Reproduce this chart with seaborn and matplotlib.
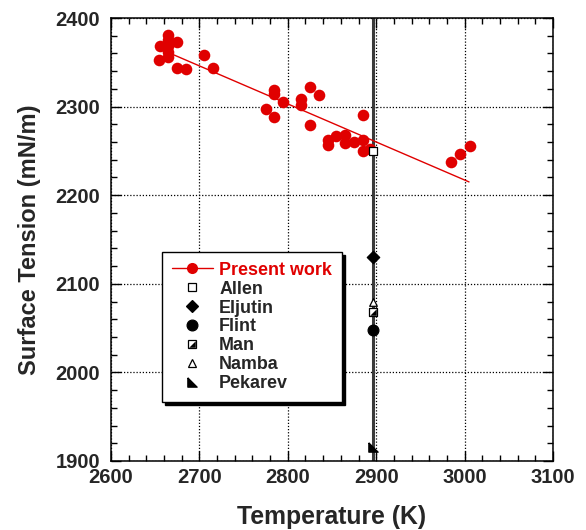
import matplotlib
matplotlib.use("Agg")
import matplotlib.pyplot as plt
from matplotlib.legend_handler import HandlerTuple
from matplotlib.lines import Line2D
import seaborn as sns
import pandas as pd
import numpy as np

# Present work: measured surface tension of liquid Mo
temp_k = [2655, 2654, 2665, 2665, 2665, 2665, 2665, 2675, 2675, 2685,
          2705, 2715, 2775, 2784, 2784, 2784, 2795, 2815, 2815, 2825,
          2825, 2835, 2845, 2845, 2855, 2865, 2865, 2875, 2885, 2885,
          2885, 2893, 2985, 2995, 3006]
tension = [2368, 2353, 2381, 2375, 2368, 2362, 2356, 2373, 2344, 2343,
           2358, 2344, 2297, 2319, 2314, 2288, 2305, 2309, 2302, 2322,
           2279, 2313, 2262, 2257, 2267, 2268, 2259, 2260, 2262, 2250,
           2290, 2252, 2237, 2246, 2255]

# Linear fit endpoints
fit_t = [2665, 3005]
fit_s = [2361, 2215]

# Literature values at the melting point
melt_t = 2896
lit_names = ["Allen", "Eljutin", "Flint", "Man", "Namba", "Pekarev"]
lit_values = [2250, 2130, 2048, 2068, 2080, 1916]

sns.set_style("white")
plt.rcParams["font.family"] = ["Liberation Sans", "DejaVu Sans"]
plt.rcParams["font.weight"] = "bold"

fig = plt.figure(figsize=(5.86, 5.30), dpi=100)
ax = fig.add_axes([0.1894, 0.1302, 0.7543, 0.8358])

red = "#e00000"
ax.axvline(melt_t, color="#3a3a3a", lw=2.2, zorder=1)

df = pd.DataFrame({"T": temp_k, "S": tension})
fit_df = pd.DataFrame({"T": fit_t, "S": fit_s})
sns.lineplot(data=fit_df, x="T", y="S", color=red, lw=1.0, ax=ax, zorder=3)
sns.scatterplot(data=df, x="T", y="S", color=red, s=70, marker="o",
                edgecolor=red, linewidth=0, ax=ax, zorder=4)

# marker shapes
lower_right = [(-1, -1), (1, -1), (1, 1), (-1, -1)]
pek_shape = [(-1, 1), (-1, -1), (1, -1), (-1, 1)]
styles = {
    "Allen": dict(marker="s", facecolor="white", size=38),
    "Eljutin": dict(marker="D", facecolor="black", size=40),
    "Flint": dict(marker="o", facecolor="black", size=60),
    "Man": dict(marker="s", facecolor="white", size=38),
    "Namba": dict(marker="^", facecolor="white", size=30),
    "Pekarev": dict(marker=pek_shape, facecolor="black", size=45),
}
lit_df = pd.DataFrame({"name": lit_names, "T": [melt_t] * len(lit_names),
                       "S": lit_values})
for name, st in styles.items():
    sub = lit_df[lit_df["name"] == name]
    sns.scatterplot(data=sub, x="T", y="S", marker=st["marker"], s=st["size"],
                    facecolor=st["facecolor"], edgecolor="black",
                    linewidth=0.9, ax=ax, zorder=5)
    if name == "Man":
        sns.scatterplot(data=sub, x="T", y="S", marker=lower_right, s=22,
                        color="black", linewidth=0, ax=ax, zorder=6)

ax.set_xlim(2600, 3100)
ax.set_ylim(1900, 2400)
ax.set_xticks([2600, 2700, 2800, 2900, 3000, 3100])
ax.set_yticks([1900, 2000, 2100, 2200, 2300, 2400])
ax.set_xticks(np.arange(2600, 3101, 20), minor=True)
ax.set_yticks(np.arange(1900, 2401, 20), minor=True)
ax.tick_params(which="both", direction="in", top=True, right=True,
               bottom=True, left=True, color="black", width=1)
ax.tick_params(which="major", length=7, labelsize=14.5)
ax.tick_params(axis="x", which="major", pad=5)
ax.tick_params(axis="y", which="major", pad=8)
ax.tick_params(which="minor", length=4)
for lab in ax.get_xticklabels() + ax.get_yticklabels():
    lab.set_fontweight("bold")
ax.grid(True, which="major", color="black", ls=(0, (1, 1.5)), lw=0.9)
for sp in ax.spines.values():
    sp.set_color("black")
    sp.set_linewidth(1.1)

ax.set_xlabel("Temperature (K)", fontsize=17.8, fontweight="bold", labelpad=13)
ax.set_ylabel("Surface Tension (mN/m)", fontsize=17, fontweight="bold",
              labelpad=10)

# legend
h_present = Line2D([], [], color=red, lw=1.0, marker="o", markersize=8,
                   markerfacecolor=red, markeredgewidth=0)
h = {}
for name, st in styles.items():
    h[name] = Line2D([], [], ls="", marker=st["marker"],
                     markersize=np.sqrt(st["size"]),
                     markerfacecolor=st["facecolor"], markeredgecolor="black",
                     markeredgewidth=0.9)
h_man_fill = Line2D([], [], ls="", marker=lower_right, markersize=np.sqrt(22),
                    markerfacecolor="black", markeredgewidth=0)
handles = [h_present, h["Allen"], h["Eljutin"], h["Flint"],
           (h["Man"], h_man_fill), h["Namba"], h["Pekarev"]]
labels = ["Present work"] + lit_names
leg = ax.legend(handles, labels, loc="upper left",
                bbox_to_anchor=(0.115, 0.472), borderaxespad=0,
                fancybox=False, framealpha=1, edgecolor="black",
                shadow={"ox": 2.2, "oy": -2.2, "facecolor": "black",
                        "edgecolor": "black", "alpha": 1},
                prop={"weight": "bold", "size": 12.9},
                handlelength=2.3, handletextpad=0.35, labelspacing=0.105,
                borderpad=0.55,
                handler_map={tuple: HandlerTuple(ndivide=1)})
leg.get_frame().set_linewidth(1.0)
leg.set_zorder(10)
leg.get_texts()[0].set_color(red)

fig.savefig("out.png", dpi=100)
